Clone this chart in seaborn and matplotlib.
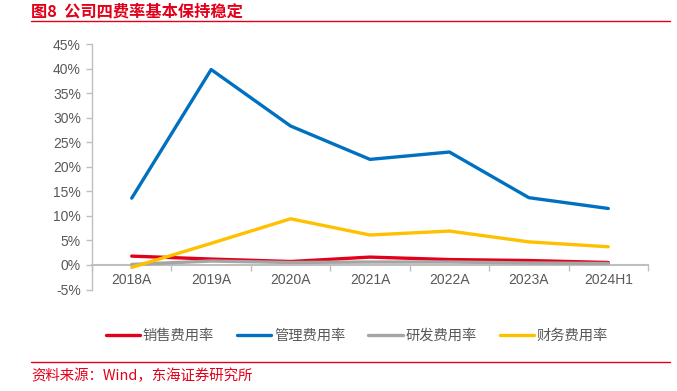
import numpy as np
import pandas as pd
import matplotlib as mpl
mpl.use("Agg")
import matplotlib.pyplot as plt
import seaborn as sns
from matplotlib.ticker import FuncFormatter, FixedLocator

# data (%)
years = ["2018A", "2019A", "2020A", "2021A", "2022A", "2023A", "2024H1"]
sales_rate = [1.8, 1.2, 0.7, 1.6, 1.1, 0.9, 0.5]
admin_rate = [13.6, 39.8, 28.3, 21.5, 23.0, 13.7, 11.5]
rd_rate = [0.1, 0.8, 0.5, 0.6, 0.6, 0.4, 0.3]
fin_rate = [-0.5, 4.4, 9.4, 6.1, 6.9, 4.7, 3.7]
series_names = ["销售费用率", "管理费用率", "研发费用率", "财务费用率"]
series_colors = ["#E3001B", "#0070C0", "#A5A5A5", "#FFC000"]

df = pd.DataFrame({"year": years * 4,
                   "value": sales_rate + admin_rate + rd_rate + fin_rate,
                   "series": [n for n in series_names for _ in years]})

sns.set_style("white")
plt.rcParams['font.family'] = ['Liberation Sans', 'Noto Sans CJK SC', 'DejaVu Sans']
RED = "#E3001B"
TXT = "#595959"
AXC = "#BFBFBF"

fig = plt.figure(figsize=(6.77, 3.91), dpi=100, facecolor="white")
ax = fig.add_axes([92 / 677, 1 - 289.5 / 391, (648 - 92) / 677, (289.5 - 44) / 391])

sns.lineplot(data=df, x="year", y="value", hue="series", hue_order=series_names,
             palette=dict(zip(series_names, series_colors)), linewidth=2.4,
             sort=False, ax=ax)

ax.set_ylim(-5, 45)
ax.set_xlim(-0.5, 6.5)
ax.set_yticks(np.arange(-5, 46, 5))
ax.yaxis.set_major_formatter(FuncFormatter(lambda v, p: f"{v:.0f}%"))
ax.set_xlabel("")
ax.set_ylabel("")

for s in ["top", "right"]:
    ax.spines[s].set_visible(False)
ax.spines["left"].set_color(AXC)
ax.spines["left"].set_linewidth(1.0)
ax.spines["bottom"].set_position(("data", 0))
ax.spines["bottom"].set_color(AXC)
ax.spines["bottom"].set_linewidth(1.5)
ax.spines["bottom"].set_zorder(0.5)

ax.tick_params(axis="y", direction="out", length=4, width=1, color=AXC,
               labelsize=10, labelcolor=TXT, pad=4, left=True)
ax.tick_params(axis="x", which="major", length=0, labelsize=10, labelcolor=TXT, pad=6)
ax.xaxis.set_minor_locator(FixedLocator(np.arange(-0.5, 7, 1)))
ax.tick_params(axis="x", which="minor", direction="out", length=4, width=1, color=AXC, bottom=True)

ax.legend(loc="center", bbox_to_anchor=(357 / 677, 1 - 336 / 391), bbox_transform=fig.transFigure,
          ncol=4, frameon=False, fontsize=10.3, handlelength=2.4, handletextpad=0.2,
          columnspacing=1.6, labelcolor=TXT)
for line in ax.get_legend().get_lines():
    line.set_linewidth(2.4)

# header and footer
fig.text(31 / 677, 1 - 11 / 391, "图8  公司四费率基本保持稳定", color=RED, fontsize=11.7,
         fontweight="bold", family=["Noto Sans CJK SC"], va="center", ha="left")
fig.add_artist(plt.Line2D([31 / 677, 670 / 677], [1 - 21 / 391, 1 - 21 / 391], color=RED, linewidth=1.0))
fig.add_artist(plt.Line2D([31 / 677, 670 / 677], [1 - 362 / 391, 1 - 362 / 391], color=RED, linewidth=1.0))
fig.text(31 / 677, 1 - 376 / 391, "资料来源：Wind，东海证券研究所", color=RED, fontsize=10.4,
         family=["Noto Sans CJK SC"], va="center", ha="left")

fig.savefig("out.png", dpi=100, facecolor="white")
